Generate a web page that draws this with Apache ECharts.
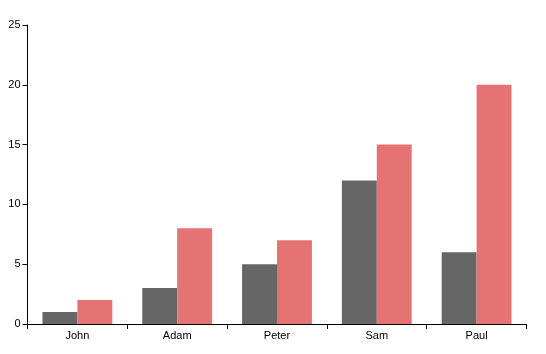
<!DOCTYPE html>
<html lang="en">
<head>
  <meta charset="UTF-8" />
  <title>Bar chart</title>
  <script src="https://cdn.jsdelivr.net/npm/echarts@6.0.0/dist/echarts.min.js"></script>
  <style>
    html, body { margin: 0; padding: 0; background: #fff; }
  </style>
</head>
<body>
  <div id="main" style="width: 546px; height: 354px;"></div>
  <script type="text/javascript">
    // data
    var names = ['John', 'Adam', 'Peter', 'Sam', 'Paul'];
    var seriesA = [1, 3, 5, 12, 6];
    var seriesB = [2, 8, 7, 15, 20];

    var grayColor = '#666666';
    var redColor = '#e57373';
    var axisFont = '"Liberation Sans", Arial, sans-serif';

    var myChart = echarts.init(document.getElementById('main'));
    myChart.setOption({
      animation: false,
      grid: { left: 27.5, right: 19.5, top: 25, bottom: 30 },
      xAxis: {
        type: 'category',
        data: names,
        axisLine: { lineStyle: { color: '#000', width: 1 } },
        axisTick: { show: true, length: 5, alignWithLabel: false, lineStyle: { color: '#000' } },
        axisLabel: { color: '#000', fontSize: 11, fontFamily: axisFont, margin: 6 }
      },
      yAxis: {
        type: 'value',
        min: 0,
        max: 25,
        interval: 5,
        axisLine: { show: true, lineStyle: { color: '#000', width: 1 } },
        axisTick: { show: true, length: 5, lineStyle: { color: '#000' } },
        axisLabel: { color: '#000', fontSize: 11, fontFamily: axisFont, margin: 7 },
        splitLine: { show: false }
      },
      series: [
        {
          type: 'bar',
          data: seriesA,
          barGap: '0%',
          barCategoryGap: '30%',
          itemStyle: { color: grayColor }
        },
        {
          type: 'bar',
          data: seriesB,
          barGap: '0%',
          barCategoryGap: '30%',
          itemStyle: { color: redColor }
        }
      ]
    });
  </script>
</body>
</html>
